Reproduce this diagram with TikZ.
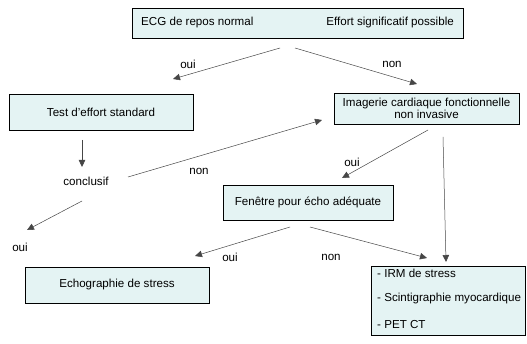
\documentclass[tikz,border=0pt]{standalone}
\usepackage{fontspec}
\setmainfont{Liberation Sans}
\usetikzlibrary{arrows.meta,shadows}
\definecolor{boxfill}{RGB}{228,243,243}
\definecolor{linegray}{RGB}{70,70,70}
\begin{document}
\begin{tikzpicture}[x=1pt,y=-1pt,
  font=\fontsize{11.6}{12.5}\selectfont,
  box/.style={draw=black,line width=0.7pt,fill=boxfill,inner sep=0pt,
    drop shadow={shadow xshift=1.3pt,shadow yshift=-1.3pt,fill=black!75,opacity=1}},
  lbl/.style={inner sep=0pt},
  arr/.style={draw=linegray,line width=0.5pt,-{Triangle[length=7pt,width=6.5pt]},shorten >=0pt}
]
\useasboundingbox (0,0) rectangle (527,344);
% boxes
\node[box,minimum width=331pt,minimum height=30pt] (top) at (297.5,23) {};
\node[lbl,anchor=west] (ecg) at (141,23) {ECG de repos normal};
\node[lbl,anchor=east] (eff) at (454,23) {Effort significatif possible};

\node[box,minimum width=184pt,minimum height=36pt] (test) at (101,112) {Test d’effort standard};
\node[box,minimum width=185pt,minimum height=31pt,align=center] (imag) at (426.5,108.5)
  {Imagerie cardiaque fonctionnelle\\non invasive};
\node[box,minimum width=170pt,minimum height=35pt] (fen) at (308,202.5) {Fenêtre pour écho adéquate};
\node[box,minimum width=184pt,minimum height=36pt] (echo) at (117,285) {Echographie de stress};
\node[box,minimum width=154pt,minimum height=69pt] (list) at (448,300.5) {};
\node[lbl,anchor=west] (irm) at (377,273) {- IRM de stress};
\node[lbl,anchor=west] (scin) at (377,299) {- Scintigraphie myocardique};
\node[lbl,anchor=west] (pet) at (377,325) {- PET CT};

\node[lbl] (concl) at (86,181) {conclusif};

% connector endpoints
\coordinate (a1) at (280,48);  \coordinate (b1) at (173,79);
\coordinate (a2) at (295,48);  \coordinate (b2) at (417,84);
\coordinate (a3) at (82,140);  \coordinate (b3) at (82,167);
\coordinate (a4) at (128,177); \coordinate (b4) at (322,120);
\coordinate (a5) at (82,201);  \coordinate (b5) at (27,230);
\coordinate (a6) at (428,130); \coordinate (b6) at (342,178);
\coordinate (a7) at (443,137); \coordinate (b7) at (446,262);
\coordinate (a8) at (290,227); \coordinate (b8) at (195,256);
\coordinate (a9) at (310,227); \coordinate (b9) at (427,258);

\draw[arr] (a1) -- (b1);
\draw[arr] (a2) -- (b2);
\draw[arr] (a3) -- (b3);
\draw[arr] (a4) -- (b4);
\draw[arr] (a5) -- (b5);
\draw[arr] (a6) -- (b6);
\draw[arr] (a7) -- (b7);
\draw[arr] (a8) -- (b8);
\draw[arr] (a9) -- (b9);

% labels
\node[lbl] (l1) at (188,64) {oui};
\node[lbl] (l2) at (392,64) {non};
\node[lbl] (l3) at (199,171) {non};
\node[lbl] (l4) at (352,162) {oui};
\node[lbl] (l5) at (20,247) {oui};
\node[lbl] (l6) at (230,257) {oui};
\node[lbl] (l7) at (331,257) {non};
\end{tikzpicture}
\end{document}
